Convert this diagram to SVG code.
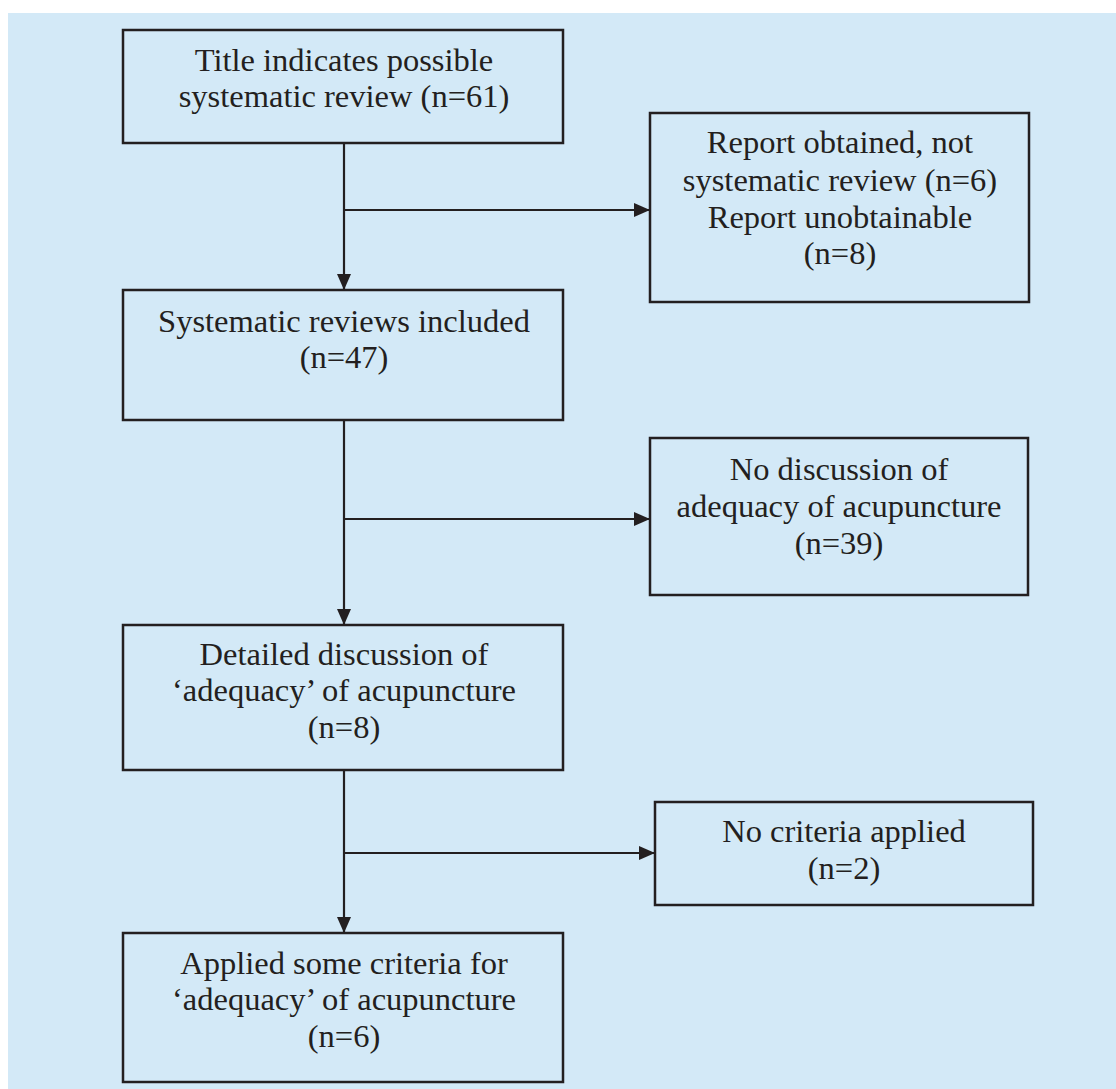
<svg xmlns="http://www.w3.org/2000/svg" width="1116" height="1089" viewBox="0 0 1116 1089">
<style>
.bx{fill:#d3e9f7;stroke:#231f20;stroke-width:2.5}
.t{font-family:"Liberation Serif","Times New Roman",serif;font-size:32.5px;fill:#231f20;text-anchor:middle}
.c{fill:none;stroke:#231f20;stroke-width:2.2}
</style>
<defs>
<marker id="ah" viewBox="0 0 16 14" refX="16" refY="7" markerWidth="16" markerHeight="14" markerUnits="userSpaceOnUse" orient="auto">
<path d="M0,0 L16,7 L0,14 Z" fill="#231f20"/>
</marker>
</defs>
<rect x="0" y="0" width="1116" height="1089" fill="#ffffff"/>
<rect x="8" y="13" width="1108" height="1076" fill="#d3e9f7"/>
<g id="connectors">
<path class="c" d="M344,143 V290" marker-end="url(#ah)"/>
<path class="c" d="M344,210 H650" marker-end="url(#ah)"/>
<path class="c" d="M344,420 V625" marker-end="url(#ah)"/>
<path class="c" d="M344,519 H650" marker-end="url(#ah)"/>
<path class="c" d="M344,770 V933" marker-end="url(#ah)"/>
<path class="c" d="M344,853 H655" marker-end="url(#ah)"/>
</g>
<g id="n1">
<rect class="bx" x="123" y="30" width="440" height="113"/>
<text class="t" x="344" y="71">Title indicates possible</text>
<text class="t" x="344" y="107">systematic review (n=61)</text>
</g>
<g id="n2">
<rect class="bx" x="650" y="113" width="379" height="189"/>
<text class="t" x="840" y="153">Report obtained, not</text>
<text class="t" x="840" y="191">systematic review (n=6)</text>
<text class="t" x="840" y="228">Report unobtainable</text>
<text class="t" x="840" y="264">(n=8)</text>
</g>
<g id="n3">
<rect class="bx" x="123" y="290" width="440" height="130"/>
<text class="t" x="344" y="332">Systematic reviews included</text>
<text class="t" x="344" y="368">(n=47)</text>
</g>
<g id="n4">
<rect class="bx" x="650" y="438" width="378" height="157"/>
<text class="t" x="839" y="480">No discussion of</text>
<text class="t" x="839" y="517">adequacy of acupuncture</text>
<text class="t" x="839" y="554">(n=39)</text>
</g>
<g id="n5">
<rect class="bx" x="123" y="625" width="440" height="145"/>
<text class="t" x="344" y="665">Detailed discussion of</text>
<text class="t" x="344" y="701">‘adequacy’ of acupuncture</text>
<text class="t" x="344" y="738">(n=8)</text>
</g>
<g id="n6">
<rect class="bx" x="655" y="802" width="378" height="103"/>
<text class="t" x="844" y="842">No criteria applied</text>
<text class="t" x="844" y="879">(n=2)</text>
</g>
<g id="n7">
<rect class="bx" x="123" y="933" width="440" height="149"/>
<text class="t" x="344" y="974">Applied some criteria for</text>
<text class="t" x="344" y="1010">‘adequacy’ of acupuncture</text>
<text class="t" x="344" y="1047">(n=6)</text>
</g>
</svg>
